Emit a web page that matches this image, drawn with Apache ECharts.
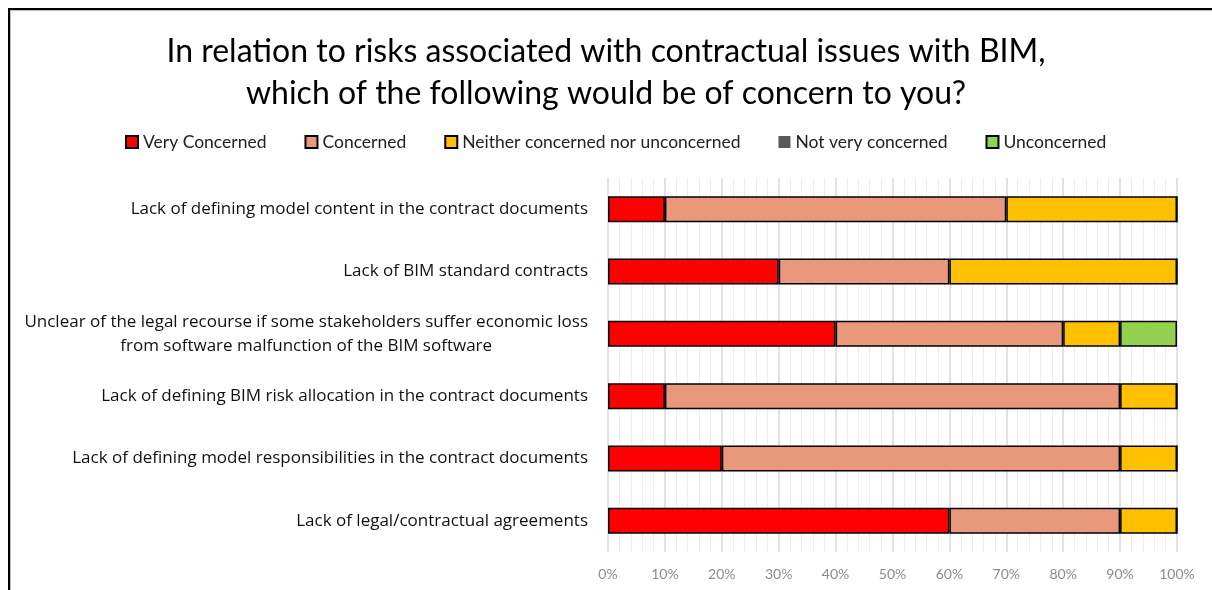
<!DOCTYPE html>
<html>
<head>
<meta charset="utf-8">
<script src="https://cdn.jsdelivr.net/npm/echarts@6/dist/echarts.min.js"></script>
<style>
  html, body { margin: 0; padding: 0; background: #fff; }
  #frame { position: absolute; left: 8px; top: 8px; width: 1220px; height: 600px;
           border-left: 2px solid #000; border-top: 2px solid #000;
           box-shadow: 1px 1px 1px #bbb inset; }
  #chart { position: absolute; left: 0; top: 0; width: 1212px; height: 590px; }
</style>
</head>
<body>
<div id="frame"></div>
<div id="chart"></div>
<script>
const titleText = 'In relation to risks associated with contractual issues with BIM,\nwhich of the following would be of concern to you?';
const categories = [
  'Lack of defining model content in the contract documents',
  'Lack of BIM standard contracts',
  'Unclear of the legal recourse if some stakeholders suffer economic loss\nfrom software malfunction of the BIM software',
  'Lack of defining BIM risk allocation in the contract documents',
  'Lack of defining model responsibilities in the contract documents',
  'Lack of legal/contractual agreements'
];
const seriesNames = ['Very Concerned', 'Concerned', 'Neither concerned nor unconcerned', 'Not very concerned', 'Unconcerned'];
const veryConcerned = [10, 30, 40, 10, 20, 60];
const concerned = [60, 30, 40, 80, 70, 30];
const neither = [30, 40, 10, 10, 10, 10];
const notVery = [0, 0, 0, 0, 0, 0];
const unconcerned = [0, 0, 10, 0, 0, 0];
const colors = ['#FF0000', '#EA987C', '#FFC000', '#595959', '#92D050'];

const font = 'Lato, "Open Sans", sans-serif';
const labelFont = '"Open Sans", Lato, sans-serif';
const values = [veryConcerned, concerned, neither, notVery, unconcerned];

const chart = echarts.init(document.getElementById('chart'), null, { renderer: 'canvas' });
chart.setOption({
  animation: false,
  title: {
    text: titleText,
    left: 'center',
    top: 26,
    textStyle: { fontFamily: font, fontSize: 32, fontWeight: 'normal', color: '#000', lineHeight: 42 }
  },
  legend: {
    top: 128,
    left: 120,
    icon: 'rect',
    itemWidth: 12,
    itemHeight: 12,
    itemGap: 38,
    textStyle: { fontFamily: font, fontSize: 17.5, color: '#222' },
    data: seriesNames
  },
  grid: { left: 608, right: 35, top: 178, bottom: 38 },
  xAxis: {
    type: 'value',
    min: 0,
    max: 100,
    interval: 10,
    axisLine: { show: false },
    axisTick: { show: false },
    axisLabel: { formatter: '{value}%', color: '#8C8C8C', fontFamily: font, fontSize: 14, margin: 15 },
    splitLine: { show: true, lineStyle: { color: '#D9D9D9', width: 1.5 } },
    minorTick: { show: false, splitNumber: 5 },
    minorSplitLine: { show: true, lineStyle: { color: '#EDEDED', width: 1 } }
  },
  yAxis: {
    type: 'category',
    inverse: true,
    data: categories,
    axisLine: { show: false },
    axisTick: { show: false },
    axisLabel: {
      color: '#000', fontFamily: labelFont, fontSize: 17, margin: 20, align: 'right',
      formatter: v => v.split('\n').map(l => '{c|' + l + '}').join('\n'),
      rich: { c: { align: 'center', color: '#111', fontFamily: labelFont, fontSize: 17, lineHeight: 24 } }
    },
    splitLine: { show: false }
  },
  series: seriesNames.map((name, i) => ({
    name,
    type: 'bar',
    stack: 'total',
    barWidth: 26,
    data: values[i],
    itemStyle: {
      color: colors[i],
      borderColor: i === 3 ? 'transparent' : '#000',
      borderWidth: i === 3 ? 0 : 1.5
    }
  }))
});
</script>
</body>
</html>
